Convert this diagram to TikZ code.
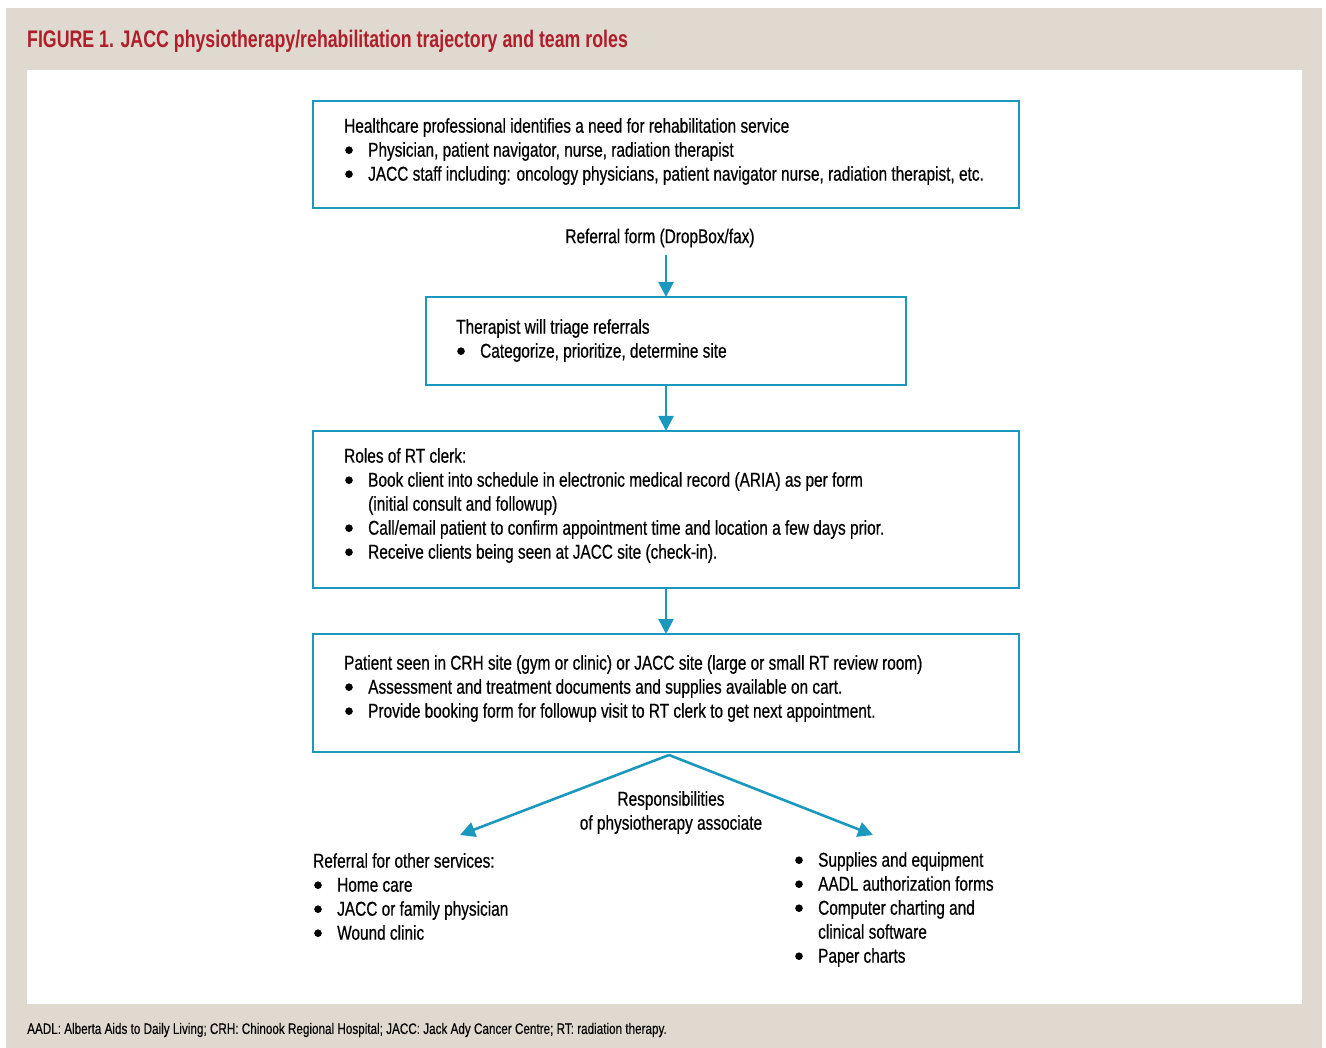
\documentclass[tikz,border=0pt]{standalone}
\usepackage{fontspec}
\setmainfont{Liberation Sans}[FakeStretch=0.77, FakeBold=0.5]
\newfontfamily\titlefont{Liberation Sans}[FakeStretch=0.74]
\newfontfamily\footfont{Liberation Sans}[FakeStretch=0.77, FakeBold=0.3]
\usetikzlibrary{arrows.meta}
\definecolor{beige}{HTML}{E0D9CF}
\definecolor{figred}{HTML}{AE1E2B}
\definecolor{boxblue}{HTML}{1B98BE}
\newcommand\bul{\makebox[24pt][l]{\hspace{1pt}\tikz[baseline=0pt]\fill[black] (4pt,6.5pt) circle[radius=3.8pt];}}
\begin{document}
\begin{tikzpicture}[x=1pt,y=-1pt,
  box/.style={draw=boxblue, line width=2.6pt, anchor=north west, inner sep=0pt, outer sep=0pt},
  txt/.style={anchor=north west, inner sep=0pt, align=left, font=\fontsize{20}{24}\selectfont},
  ctxt/.style={inner sep=0pt, align=center, font=\fontsize{20}{24}\selectfont},
  arr/.style={draw=boxblue, line width=2.6pt, -{Triangle[length=15pt,width=15pt]}}]
\useasboundingbox (0,0) rectangle (1326,1048);
\fill[beige] (6,8) rectangle (1322,1048);
\fill[white] (27,70) rectangle (1302,1004);
% title
\node[anchor=west, inner sep=0pt, text=figred, font=\titlefont\bfseries\fontsize{24}{28}\selectfont] (title) at (27,41) {FIGURE 1. JACC physiotherapy/rehabilitation trajectory and team roles};
% boxes
\node[box, minimum width=706pt, minimum height=107pt] (b1) at (313,101) {};
\node[box, minimum width=480pt, minimum height=88pt] (b2) at (426,297) {};
\node[box, minimum width=706pt, minimum height=157pt] (b3) at (313,431) {};
\node[box, minimum width=706pt, minimum height=118pt] (b4) at (313,634) {};
% box texts
\node[txt] (t1) at (344,118) {Healthcare professional identifies a need for rehabilitation service\\
\bul Physician, patient navigator, nurse, radiation therapist\\
\bul JACC staff including: oncology physicians, patient navigator nurse, radiation therapist, etc.};
\node[txt] (t2) at (456,319) {Therapist will triage referrals\\
\bul Categorize, prioritize, determine site};
\node[txt] (t3) at (344,448) {Roles of RT clerk:\\
\bul Book client into schedule in electronic medical record (ARIA) as per form\\
\hspace*{24pt}(initial consult and followup)\\
\bul Call/email patient to confirm appointment time and location a few days prior.\\
\bul Receive clients being seen at JACC site (check-in).};
\node[txt] (t4) at (344,655) {Patient seen in CRH site (gym or clinic) or JACC site (large or small RT review room)\\
\bul Assessment and treatment documents and supplies available on cart.\\
\bul Provide booking form for followup visit to RT clerk to get next appointment.};
% referral label
\node[ctxt] (ref) at (660,238) {Referral form (DropBox/fax)};
% responsibilities
\node[ctxt, anchor=north] (resp) at (671,791) {Responsibilities\\of physiotherapy associate};
% lists
\node[txt] (left) at (313,853) {Referral for other services:\\
\bul Home care\\
\bul JACC or family physician\\
\bul Wound clinic};
\node[txt] (right) at (794,852) {\bul Supplies and equipment\\
\bul AADL authorization forms\\
\bul Computer charting and\\
\hspace*{24pt}clinical software\\
\bul Paper charts};
% footer
\node[anchor=west, inner sep=0pt, font=\footfont\fontsize{15.2}{18}\selectfont] (foot) at (27,1030) {AADL: Alberta Aids to Daily Living; CRH: Chinook Regional Hospital; JACC: Jack Ady Cancer Centre; RT: radiation therapy.};
% connectors
\coordinate (s1) at (b2.north |- 0,255);
\coordinate (fork) at (669,755);
\coordinate (la) at (460,835);
\coordinate (ra) at (873,835);
\draw[arr] (s1) -- (b2.north);
\draw[arr] (b2.south) -- (b3.north);
\draw[arr] (b3.south) -- (b4.north);
\draw[arr] (fork) -- (la);
\draw[arr] (fork) -- (ra);
\end{tikzpicture}
\end{document}
